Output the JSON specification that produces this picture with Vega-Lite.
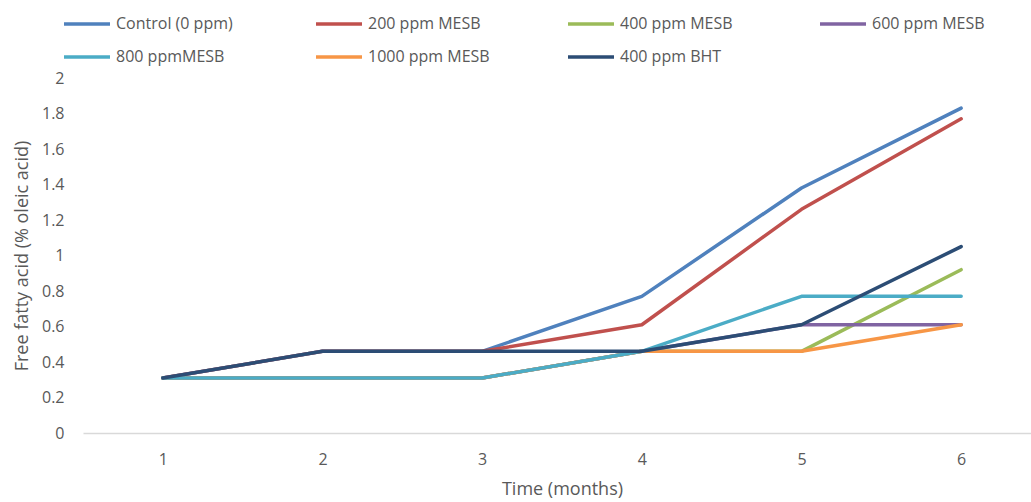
{
  "$schema": "https://vega.github.io/schema/vega-lite/v6.json",
  "autosize": "none",
  "width": 958,
  "height": 355,
  "padding": {"left": 83, "top": 78, "right": 0, "bottom": 69},
  "background": "white",
  "config": {
    "view": {"stroke": null},
    "font": "Open Sans",
    "text": {"font": "Open Sans"}
  },
  "data": {
    "values": [
      {"month": 1, "series": "Control (0 ppm)", "ffa": 0.31},
      {"month": 2, "series": "Control (0 ppm)", "ffa": 0.46},
      {"month": 3, "series": "Control (0 ppm)", "ffa": 0.46},
      {"month": 4, "series": "Control (0 ppm)", "ffa": 0.77},
      {"month": 5, "series": "Control (0 ppm)", "ffa": 1.38},
      {"month": 6, "series": "Control (0 ppm)", "ffa": 1.83},
      {"month": 1, "series": "200 ppm MESB", "ffa": 0.31},
      {"month": 2, "series": "200 ppm MESB", "ffa": 0.46},
      {"month": 3, "series": "200 ppm MESB", "ffa": 0.46},
      {"month": 4, "series": "200 ppm MESB", "ffa": 0.61},
      {"month": 5, "series": "200 ppm MESB", "ffa": 1.26},
      {"month": 6, "series": "200 ppm MESB", "ffa": 1.77},
      {"month": 1, "series": "400 ppm MESB", "ffa": 0.31},
      {"month": 2, "series": "400 ppm MESB", "ffa": 0.31},
      {"month": 3, "series": "400 ppm MESB", "ffa": 0.31},
      {"month": 4, "series": "400 ppm MESB", "ffa": 0.46},
      {"month": 5, "series": "400 ppm MESB", "ffa": 0.46},
      {"month": 6, "series": "400 ppm MESB", "ffa": 0.92},
      {"month": 1, "series": "600 ppm MESB", "ffa": 0.31},
      {"month": 2, "series": "600 ppm MESB", "ffa": 0.31},
      {"month": 3, "series": "600 ppm MESB", "ffa": 0.31},
      {"month": 4, "series": "600 ppm MESB", "ffa": 0.46},
      {"month": 5, "series": "600 ppm MESB", "ffa": 0.61},
      {"month": 6, "series": "600 ppm MESB", "ffa": 0.61},
      {"month": 1, "series": "1000 ppm MESB", "ffa": 0.31},
      {"month": 2, "series": "1000 ppm MESB", "ffa": 0.31},
      {"month": 3, "series": "1000 ppm MESB", "ffa": 0.31},
      {"month": 4, "series": "1000 ppm MESB", "ffa": 0.46},
      {"month": 5, "series": "1000 ppm MESB", "ffa": 0.46},
      {"month": 6, "series": "1000 ppm MESB", "ffa": 0.61},
      {"month": 1, "series": "800 ppmMESB", "ffa": 0.31},
      {"month": 2, "series": "800 ppmMESB", "ffa": 0.31},
      {"month": 3, "series": "800 ppmMESB", "ffa": 0.31},
      {"month": 4, "series": "800 ppmMESB", "ffa": 0.46},
      {"month": 5, "series": "800 ppmMESB", "ffa": 0.77},
      {"month": 6, "series": "800 ppmMESB", "ffa": 0.77},
      {"month": 1, "series": "400 ppm BHT", "ffa": 0.31},
      {"month": 2, "series": "400 ppm BHT", "ffa": 0.46},
      {"month": 3, "series": "400 ppm BHT", "ffa": 0.46},
      {"month": 4, "series": "400 ppm BHT", "ffa": 0.46},
      {"month": 5, "series": "400 ppm BHT", "ffa": 0.61},
      {"month": 6, "series": "400 ppm BHT", "ffa": 1.05}
    ]
  },
  "mark": {"type": "line", "strokeWidth": 3.5, "strokeCap": "round", "strokeJoin": "round"},
  "encoding": {
    "x": {
      "field": "month",
      "type": "ordinal",
      "scale": {"type": "point", "padding": 0.5},
      "axis": {
        "title": "Time (months)",
        "labelAngle": 0,
        "labelFontSize": 16,
        "labelColor": "#595959",
        "labelPadding": 18,
        "ticks": false,
        "domainColor": "#d9d9d9",
        "domainWidth": 1.5,
        "titleFontSize": 18,
        "titleFontWeight": "normal",
        "titleColor": "#595959",
        "titlePadding": 13
      }
    },
    "y": {
      "field": "ffa",
      "type": "quantitative",
      "scale": {"domain": [0, 2], "nice": false},
      "axis": {
        "title": "Free fatty acid (% oleic acid)",
        "values": [0, 0.2, 0.4, 0.6, 0.8, 1, 1.2, 1.4, 1.6, 1.8, 2],
        "format": "~g",
        "grid": false,
        "domain": false,
        "ticks": false,
        "labelFontSize": 16,
        "labelColor": "#595959",
        "labelPadding": 19,
        "titleFontSize": 18,
        "titleFontWeight": "normal",
        "titleColor": "#595959",
        "titlePadding": 10
      }
    },
    "color": {
      "field": "series",
      "type": "nominal",
      "scale": {
        "domain": ["Control (0 ppm)", "200 ppm MESB", "400 ppm MESB", "600 ppm MESB", "800 ppmMESB", "1000 ppm MESB", "400 ppm BHT"],
        "range": ["#4F81BD", "#C0504D", "#9BBB59", "#8064A2", "#4BACC6", "#F79646", "#2C4D75"]
      },
      "legend": {
        "title": null,
        "orient": "none",
        "legendX": -21,
        "legendY": -79,
        "direction": "horizontal",
        "columns": 4,
        "gridAlign": "all",
        "columnPadding": 71,
        "rowPadding": -7,
        "padding": 0,
        "symbolType": "stroke",
        "symbolSize": 2116,
        "symbolStrokeWidth": 3.5,
        "labelFontSize": 16,
        "labelColor": "#595959",
        "labelOffset": 4
      }
    }
  }
}
